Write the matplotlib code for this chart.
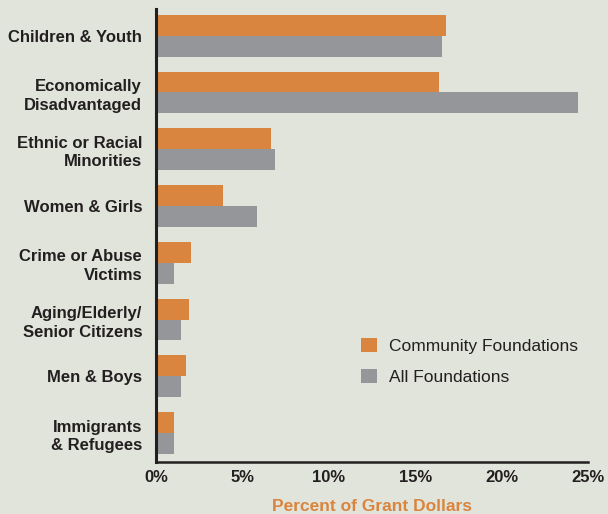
import matplotlib
matplotlib.use("Agg")
import matplotlib.pyplot as plt
from matplotlib.patches import Patch
import numpy as np

categories = ["Children & Youth", "Economically\nDisadvantaged", "Ethnic or Racial\nMinorities",
              "Women & Girls", "Crime or Abuse\nVictims", "Aging/Elderly/\nSenior Citizens",
              "Men & Boys", "Immigrants\n& Refugees"]
community = [16.8, 16.4, 6.65, 3.9, 2.0, 1.9, 1.75, 1.05]
all_found = [16.55, 24.4, 6.9, 5.85, 1.05, 1.45, 1.45, 1.05]
series_names = ["Community Foundations", "All Foundations"]
xticks = [0, 5, 10, 15, 20, 25]
xticklabels = ["0%", "5%", "10%", "15%", "20%", "25%"]
xlabel = "Percent of Grant Dollars"

BG = "#e1e4da"
ORANGE = "#d9853f"
GREY = "#959699"
DARK = "#231f20"

fig = plt.figure(figsize=(6.08, 5.14), dpi=100, facecolor=BG)
ax = fig.add_axes([156/608, 1-462/514, (588-156)/608, (462-9)/514])
ax.set_facecolor(BG)

y = np.arange(len(categories))
h = 0.368
ax.barh(y - h/2, community, height=h, color=ORANGE, label=series_names[0])
ax.barh(y + h/2, all_found, height=h, color=GREY, label=series_names[1])

ax.set_xlim(0, 25)
ax.set_ylim(7.51, -0.47)
ax.set_yticks(y)
ax.set_yticklabels(categories, fontsize=12, fontweight="bold", color=DARK,
                   family="Liberation Sans", linespacing=1.3)
ax.set_xticks(xticks)
ax.set_xticklabels(xticklabels, fontsize=12, fontweight="bold", color=DARK,
                   family="Liberation Sans")
ax.tick_params(axis="y", length=0, pad=10)
ax.tick_params(axis="x", length=0, pad=6)
for s in ["top", "right"]:
    ax.spines[s].set_visible(False)
ax.spines["left"].set_linewidth(2.2)
ax.spines["bottom"].set_linewidth(1.8)
ax.spines["left"].set_color(DARK)
ax.spines["bottom"].set_color(DARK)

ax.set_xlabel(xlabel, fontsize=12.5, fontweight="bold", color=ORANGE,
              family="Liberation Sans", labelpad=10)

handles = [Patch(facecolor=ORANGE), Patch(facecolor=GREY)]
leg = ax.legend(handles, series_names, loc="upper left",
                bbox_to_anchor=((361-156)/432, (462-338)/453), frameon=False,
                prop={"family": "Liberation Sans", "size": 12.5},
                handlelength=0.9, handleheight=0.9, handletextpad=0.7,
                labelspacing=0.85, borderpad=0, borderaxespad=0)
for t in leg.get_texts():
    t.set_color(DARK)

fig.savefig("out.png", dpi=100, facecolor=BG)
